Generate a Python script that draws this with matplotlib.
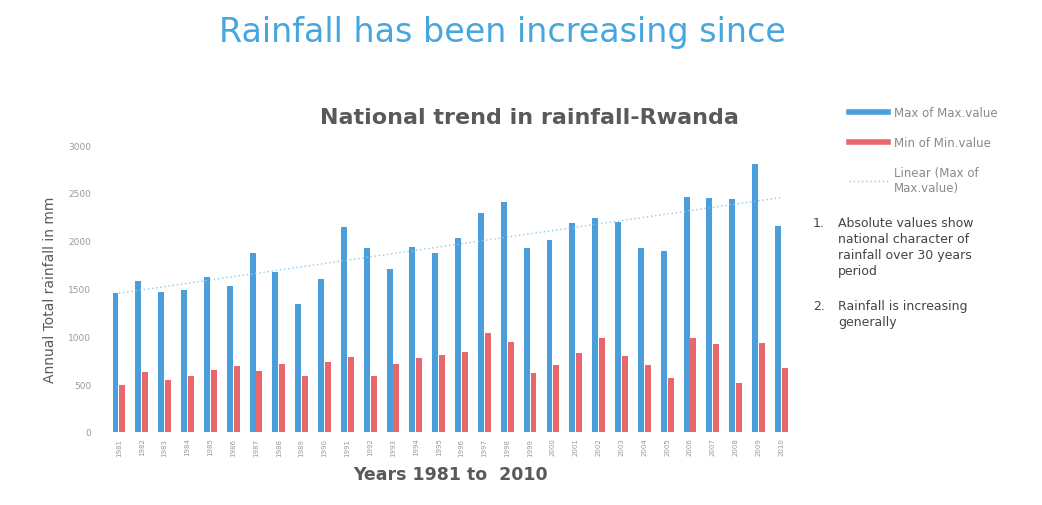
import numpy as np
import matplotlib
matplotlib.use("Agg")
import matplotlib.pyplot as plt
from matplotlib.lines import Line2D

# data (mm)
years = list(range(1981, 2011))
max_vals = [1450, 1580, 1460, 1480, 1620, 1530, 1870, 1670, 1340, 1600,
            2140, 1920, 1700, 1930, 1870, 2030, 2290, 2400, 1920, 2010,
            2190, 2240, 2200, 1920, 1890, 2460, 2450, 2440, 2800, 2150]
min_vals = [490, 630, 540, 590, 650, 690, 640, 710, 590, 730,
            780, 590, 710, 770, 810, 840, 1030, 940, 620, 700,
            830, 980, 790, 700, 560, 980, 920, 510, 930, 670]

blue = '#4a9edb'
red = '#e8676d'
grey = '#595959'

fig = plt.figure(figsize=(10.42, 5.06), dpi=100)
fig.text(0.482, 0.935, 'Rainfall has been increasing since', ha='center', va='center',
         fontsize=24, color='#45a6e0')

ax = fig.add_axes([0.101, 0.1443, 0.662, 0.567])
x = np.arange(len(years))
w = 0.26
ax.bar(x - 0.15, max_vals, width=w, color=blue)
ax.bar(x + 0.15, min_vals, width=w, color=red)

# linear trend of the max series
k, b = np.polyfit(x, max_vals, 1)
ax.plot(x, k * x + b, linestyle=(0, (1, 2)), color='#8cc8ea', linewidth=1)

ax.set_xlim(-0.6, 29.6)
ax.set_ylim(0, 3000)
ax.set_yticks(range(0, 3001, 500))
ax.set_xticks(x)
ax.set_xticklabels([str(y) for y in years], rotation=90, fontsize=5, color='#9a9a9a')
ax.tick_params(axis='y', labelsize=6.5, labelcolor='#9a9a9a', length=0, pad=10)
ax.tick_params(axis='x', length=0, pad=4)
for s in ax.spines.values():
    s.set_visible(False)

ax.set_ylabel('Annual Total rainfall in mm', fontsize=10, color=grey, labelpad=8)
fig.text(0.432, 0.061, 'Years 1981 to  2010', ha='center', va='center',
         fontsize=12.5, fontweight='bold', color=grey)
fig.text(0.508, 0.767, 'National trend in rainfall-Rwanda', ha='center', va='center',
         fontsize=16, fontweight='bold', color=grey)

# legend
handles = [Line2D([], [], color=blue, linewidth=4),
           Line2D([], [], color=red, linewidth=4),
           Line2D([], [], color='#8cc8ea', linestyle=(0, (1, 2)), linewidth=1)]
labels = ['Max of Max.value', 'Min of Min.value', 'Linear (Max of\nMax.value)']
leg = fig.legend(handles, labels, loc='upper left', bbox_to_anchor=(0.805, 0.81),
                 frameon=False, fontsize=8.5, handlelength=3.3, labelspacing=1.45,
                 handletextpad=0.5)
for t in leg.get_texts():
    t.set_color('#8a8a8a')

# notes
notes = [('1.', 'Absolute values show\nnational character of\nrainfall over 30 years\nperiod', 0.572),
         ('2.', 'Rainfall is increasing\ngenerally', 0.407)]
for num, txt, yy in notes:
    fig.text(0.780, yy, num, ha='left', va='top', fontsize=9, color='#444444')
    fig.text(0.804, yy, txt, ha='left', va='top', fontsize=9, color='#444444',
             linespacing=1.3)

fig.savefig('out.png', dpi=100)
